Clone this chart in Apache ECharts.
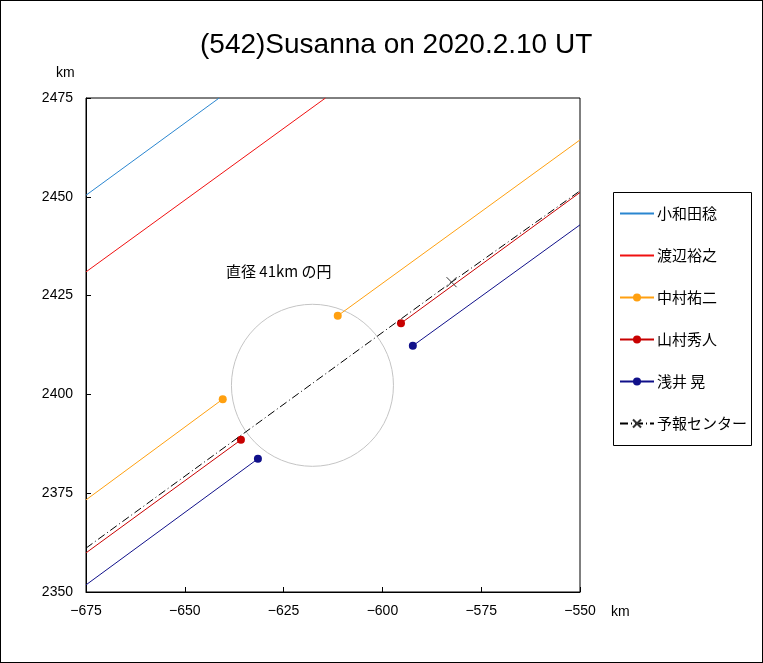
<!DOCTYPE html>
<html>
<head>
<meta charset="utf-8">
<script src="https://cdn.jsdelivr.net/npm/echarts@6/dist/echarts.min.js"></script>
<style>
html,body{margin:0;padding:0;background:#fff;}
#frame{width:763px;height:663px;box-sizing:border-box;border:1px solid #000;position:relative;}
#chart{position:absolute;left:-1px;top:-1px;width:763px;height:663px;}
</style>
</head>
<body>
<div id="frame"><div id="chart"></div></div>
<script>
// ---- data (km) ----
const titleText = '(542)Susanna on 2020.2.10 UT';
const xTicks = { min: -675, max: -550, interval: 25 };
const yTicks = { min: 2350, max: 2475, interval: 25 };
const names = ['小和田稔', '渡辺裕之', '中村祐二', '山村秀人', '浅井 晃', '予報センター'];
const owadaLine = [[-675, 2450.4], [-641.3, 2475]];
const watanabeLine = [[-675, 2431.0], [-614.4, 2475]];
const nakamuraWest = [[-675, 2373.3], [-640.4, 2398.8]];
const nakamuraEast = [[-611.3, 2419.9], [-550, 2464.4]];
const yamamuraWest = [[-675, 2359.9], [-635.8, 2388.5]];
const yamamuraEast = [[-595.3, 2418.0], [-550, 2451.1]];
const asaiWest = [[-675, 2351.8], [-631.5, 2383.7]];
const asaiEast = [[-592.3, 2412.3], [-550, 2442.9]];
const predictedLine = [[-675, 2361.1], [-582.5, 2428.4], [-550, 2451.5]];
const circleFit = [[-617.7, 2402.3, 41]]; // center x, y, diameter
const circleLabel = '直径 41km の円';

const cjk = '"Noto Sans CJK JP", "Liberation Sans", sans-serif';
const lat = '"Liberation Sans", Arial, sans-serif';
const fmt = v => (v < 0 ? '\u2212' + Math.abs(v) : String(v));

function seg(arr, markAt) {
  return arr.map((p, i) => (i === markAt ? { value: p } : { value: p, symbol: 'none' }));
}
function obsSeries(name, color, data, withSymbol) {
  return {
    name, type: 'line', data, z: 3,
    symbol: withSymbol ? 'circle' : 'none', symbolSize: 8, showSymbol: true,
    lineStyle: { color, width: 1 }, itemStyle: { color },
    emphasis: { disabled: true }, animation: false, silent: true
  };
}
const crossPath = 'path://M0,0L10,10M10,0L0,10';

const legendData = names.map((n, i) => (i < 2 ? { name: n, itemStyle: { opacity: 0 } } : { name: n }));

const chart = echarts.init(document.getElementById('chart'), null, { renderer: 'canvas' });
chart.setOption({
  animation: false,
  title: { text: titleText, left: 195, top: 26, textStyle: { fontFamily: lat, fontSize: 28, fontWeight: 'normal', color: '#000' } },
  grid: { left: 86, top: 98, width: 494, height: 494, show: true, borderColor: '#000', borderWidth: 1, backgroundColor: 'transparent' },
  xAxis: {
    type: 'value', min: xTicks.min, max: xTicks.max, interval: xTicks.interval,
    axisLine: { show: true, onZero: false, lineStyle: { color: '#000' } },
    axisTick: { show: true, inside: true, length: 5, lineStyle: { color: '#000' } },
    splitLine: { show: false },
    axisLabel: { formatter: fmt, margin: 12, color: '#000', fontFamily: lat, fontSize: 14 }
  },
  yAxis: {
    type: 'value', min: yTicks.min, max: yTicks.max, interval: yTicks.interval,
    axisLine: { show: true, onZero: false, lineStyle: { color: '#000' } },
    axisTick: { show: true, inside: true, length: 5, lineStyle: { color: '#000' } },
    splitLine: { show: false },
    axisLabel: { formatter: fmt, margin: 13, color: '#000', fontFamily: lat, fontSize: 14 }
  },
  legend: {
    data: legendData, orient: 'vertical', left: 612, top: 192,
    padding: [14, 5, 14, 7], itemWidth: 34, itemHeight: 10, itemGap: 27,
    textStyle: { fontFamily: cjk, fontSize: 15, color: '#000', padding: [0, 0, 0, -2] },
    selectedMode: false
  },
  graphic: [
    { type: 'rect', shape: { x: 613.5, y: 192.5, width: 138, height: 253 }, style: { fill: 'none', stroke: '#000', lineWidth: 1 }, silent: true },
    { type: 'text', x: 56, y: 73, style: { text: 'km', fontFamily: lat, fontSize: 14, fill: '#000', verticalAlign: 'middle' } },
    { type: 'text', x: 611, y: 612, style: { text: 'km', fontFamily: lat, fontSize: 14, fill: '#000', verticalAlign: 'middle' } },
    { type: 'text', x: 226, y: 271, style: { text: circleLabel, fontFamily: cjk, fontSize: 15, fill: '#000', verticalAlign: 'middle' } }
  ],
  series: [
    {
      type: 'custom', name: 'circle', data: circleFit, z: 1, silent: true,
      renderItem: (params, api) => {
        const c = api.coord([api.value(0), api.value(1)]);
        const r = api.size([api.value(2) / 2, 0])[0];
        return { type: 'circle', shape: { cx: c[0], cy: c[1], r }, style: { fill: 'none', stroke: '#c4c4c4', lineWidth: 1 } };
      }
    },
    obsSeries(names[0], '#2a86d0', seg(owadaLine, -1), false),
    obsSeries(names[1], '#f01010', seg(watanabeLine, -1), false),
    obsSeries(names[2], '#ffa010', seg(nakamuraWest, 1), true),
    obsSeries(names[2], '#ffa010', seg(nakamuraEast, 0), true),
    obsSeries(names[3], '#c80000', seg(yamamuraWest, 1), true),
    obsSeries(names[3], '#c80000', seg(yamamuraEast, 0), true),
    obsSeries(names[4], '#10108a', seg(asaiWest, 1), true),
    obsSeries(names[4], '#10108a', seg(asaiEast, 0), true),
    {
      name: names[5], type: 'line', z: 4, silent: true,
      data: seg(predictedLine, 1),
      symbol: crossPath, symbolSize: 10, showSymbol: true,
      lineStyle: { color: '#000', width: 1, type: [8, 3, 1, 3] },
      itemStyle: { color: 'transparent', borderColor: '#333', borderWidth: 1 },
      emphasis: { disabled: true }
    }
  ]
});
</script>
</body>
</html>
